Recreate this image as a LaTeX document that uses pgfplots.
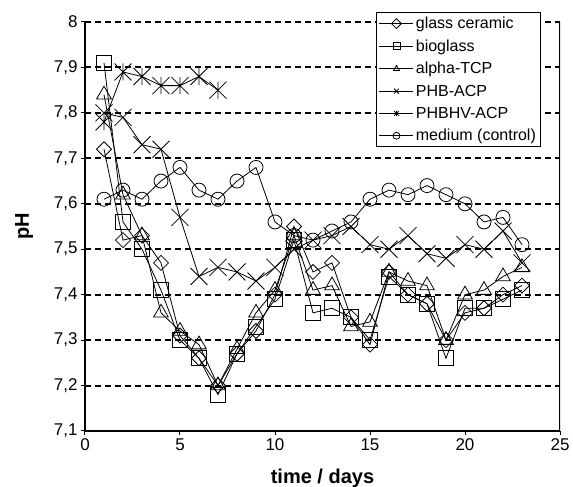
\documentclass[border=0pt]{standalone}
\usepackage{fontspec}
\setmainfont{Liberation Sans}
\usepackage{pgfplots}
\pgfplotsset{compat=1.18}
\usetikzlibrary{calc}
\pgfdeclareplotmark{xstar}{%
  \pgfpathmoveto{\pgfqpoint{-.7071\pgfplotmarksize}{-.7071\pgfplotmarksize}}%
  \pgfpathlineto{\pgfqpoint{.7071\pgfplotmarksize}{.7071\pgfplotmarksize}}%
  \pgfpathmoveto{\pgfqpoint{-.7071\pgfplotmarksize}{.7071\pgfplotmarksize}}%
  \pgfpathlineto{\pgfqpoint{.7071\pgfplotmarksize}{-.7071\pgfplotmarksize}}%
  \pgfpathmoveto{\pgfqpoint{0pt}{-.7071\pgfplotmarksize}}%
  \pgfpathlineto{\pgfqpoint{0pt}{.7071\pgfplotmarksize}}%
  \pgfusepathqstroke}
\begin{document}
\begin{tikzpicture}
\begin{axis}[
  name=ax,
  scale only axis,
  width=475pt, height=409pt,
  xmin=0, xmax=25, ymin=7.1, ymax=8,
  xtick={0,5,10,15,20,25},
  ytick={7.1,7.2,7.3,7.4,7.5,7.6,7.7,7.8,7.9,8},
  axis lines=left,
  axis line style={-, line width=1.2pt},
  tick style={black, line width=1pt},
  tick align=outside,
  major tick length=4pt,
  ymajorgrids,
  major grid style={black, line width=2pt, dash pattern=on 6pt off 4pt},
  /pgf/number format/assume math mode=true,
  /pgf/number format/use comma,
  /pgf/number format/fixed,
  /pgf/number format/precision=1,
  tick label style={font=\fontsize{17}{20}\selectfont},
  xlabel={\textbf{time / days}},
  ylabel={\textbf{pH}},
  label style={font=\fontsize{20}{24}\selectfont},
  xlabel style={yshift=-12pt},
  ylabel style={yshift=14pt},
  every axis plot/.append style={black, line width=0.8pt},
  legend cell align=left,
  legend style={at={(0.613,1.024)}, anchor=north west, draw=black, line width=0.8pt,
    fill=white, font=\fontsize{16}{18}\selectfont, row sep=5.5pt, inner sep=2.5pt},
  legend image code/.code={\draw[mark repeat=2,mark phase=2,#1,mark size=3.5pt]
     plot coordinates {(0pt,0pt) (17pt,0pt) (34pt,0pt)};},
]
% glass ceramic
\addplot[mark=square, mark size=5.3pt, mark options={rotate=45}] coordinates {
(1,7.72) (2,7.52) (3,7.53) (4,7.47) (5,7.31) (6,7.26) (7,7.20) (8,7.27) (9,7.32)
(10,7.40) (11,7.55) (12,7.45) (13,7.47) (14,7.35) (15,7.29) (16,7.45) (17,7.40)
(18,7.38) (19,7.30) (20,7.36) (21,7.37) (22,7.40) (23,7.42)};
\addlegendentry{glass ceramic}
% bioglass
\addplot[mark=square, mark size=7.5pt] coordinates {
(1,7.91) (2,7.56) (3,7.50) (4,7.41) (5,7.30) (6,7.26) (7,7.18) (8,7.27) (9,7.33)
(10,7.39) (11,7.52) (12,7.36) (13,7.37) (14,7.35) (15,7.30) (16,7.44) (17,7.40)
(18,7.38) (19,7.26) (20,7.37) (21,7.37) (22,7.39) (23,7.41)};
\addlegendentry{bioglass}
% alpha-TCP
\addplot[mark=triangle, mark size=8.5pt] coordinates {
(1,7.84) (2,7.62) (3,7.53) (4,7.36) (5,7.32) (6,7.29) (7,7.20) (8,7.28) (9,7.36)
(10,7.41) (11,7.53) (12,7.41) (13,7.42) (14,7.33) (15,7.34) (16,7.45) (17,7.43)
(18,7.42) (19,7.30) (20,7.40) (21,7.41) (22,7.44) (23,7.46)};
\addlegendentry{alpha-TCP}
% PHB-ACP
\addplot[mark=x, mark size=12pt] coordinates {
(1,7.80) (2,7.79) (3,7.73) (4,7.72) (5,7.57) (6,7.44) (7,7.46) (8,7.45) (9,7.43)
(10,7.46) (11,7.50) (12,7.52) (13,7.53) (14,7.55) (15,7.51) (16,7.50) (17,7.53)
(18,7.49) (19,7.48) (20,7.51) (21,7.50) (22,7.54) (23,7.47)};
\addlegendentry{PHB-ACP}
% PHBHV-ACP
\addplot[mark=xstar, mark size=12pt] coordinates {
(1,7.78) (2,7.89) (3,7.88) (4,7.86) (5,7.86) (6,7.88) (7,7.85)};
\addlegendentry{PHBHV-ACP}
% medium (control)
\addplot[mark=o, mark size=7pt] coordinates {
(1,7.61) (2,7.63) (3,7.61) (4,7.65) (5,7.68) (6,7.63) (7,7.61) (8,7.65) (9,7.68)
(10,7.56) (11,7.53) (12,7.52) (13,7.54) (14,7.56) (15,7.61) (16,7.63) (17,7.62)
(18,7.64) (19,7.62) (20,7.60) (21,7.56) (22,7.57) (23,7.51)};
\addlegendentry{medium (control)}
\draw[line width=1.2pt] (rel axis cs:1,0) -- (rel axis cs:1,1);
\end{axis}
\pgfresetboundingbox
\path ($(ax.south west)+(-85pt,-56pt)$) rectangle ($(ax.north east)+(13pt,22pt)$);
\end{tikzpicture}
\end{document}
